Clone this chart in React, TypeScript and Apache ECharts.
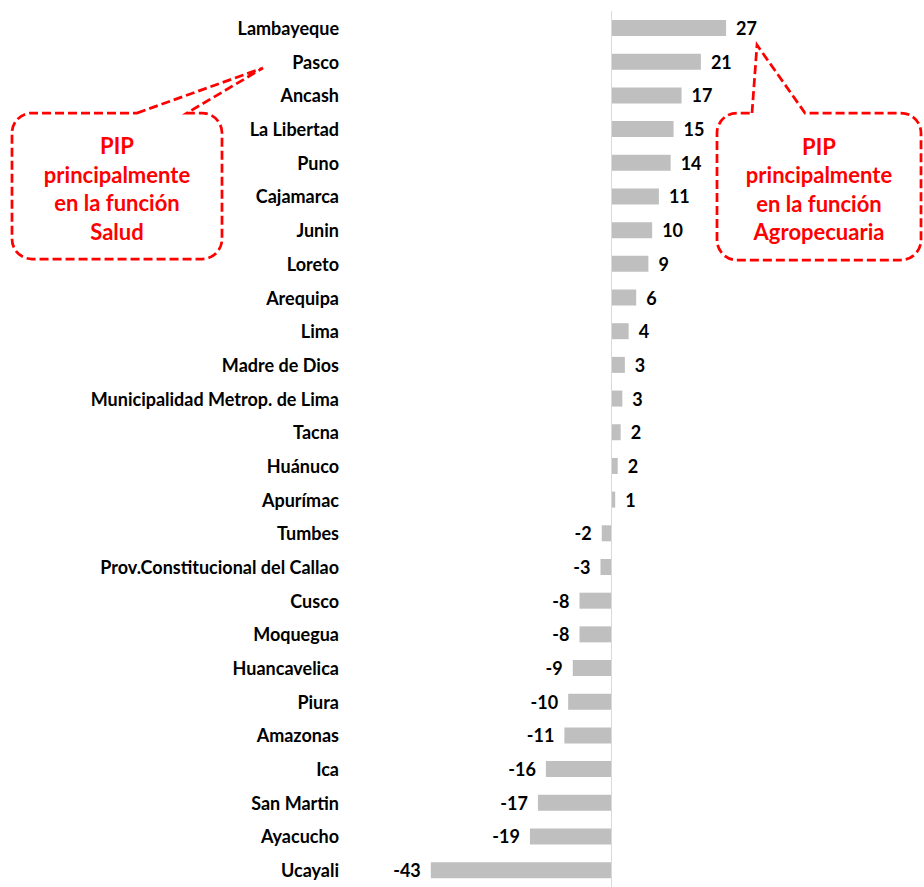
import React, { useEffect, useRef } from "react";
import * as echarts from "echarts";

const categories = [
  "Lambayeque", "Pasco", "Ancash", "La Libertad", "Puno", "Cajamarca", "Junin", "Loreto",
  "Arequipa", "Lima", "Madre de Dios", "Municipalidad Metrop. de Lima", "Tacna", "Huánuco",
  "Apurímac", "Tumbes", "Prov.Constitucional del Callao", "Cusco", "Moquegua", "Huancavelica",
  "Piura", "Amazonas", "Ica", "San Martin", "Ayacucho", "Ucayali",
];
const values = [
  27.4, 21.4, 16.8, 14.9, 14.2, 11.4, 9.8, 8.9, 6.0, 4.2, 3.3, 2.7, 2.3, 1.6, 1.0,
  -2.2, -2.5, -7.5, -7.5, -9.1, -10.2, -11.1, -15.5, -17.4, -19.3, -42.9,
];
const noteSalud = ["PIP", "principalmente", "en la función", "Salud"];
const noteAgro = ["PIP", "principalmente", "en la función", "Agropecuaria"];

const LEFT_CALLOUT =
  "M 137 113 L 263 68 L 187 113 L 202 113 A 20 20 0 0 1 222 133 L 222 239 A 20 20 0 0 1 202 259 L 32 259 A 20 20 0 0 1 12 239 L 12 133 A 20 20 0 0 1 32 113 Z";
const RIGHT_CALLOUT =
  "M 752 113 L 757 45 L 805 113 L 901 113 A 20 20 0 0 1 921 133 L 921 240 A 20 20 0 0 1 901 260 L 737 260 A 20 20 0 0 1 717 240 L 717 133 A 20 20 0 0 1 737 113 Z";

echarts.graphic.registerShape("calloutLeft", echarts.graphic.extendPath(LEFT_CALLOUT, {}));
echarts.graphic.registerShape("calloutRight", echarts.graphic.extendPath(RIGHT_CALLOUT, {}));

const FONT = "Lato";
const RED = "#FF0000";

function roundAway(v: number) {
  return Math.sign(v) * Math.round(Math.abs(v));
}

export default function App() {
  const ref = useRef<HTMLDivElement>(null);
  useEffect(() => {
    if (!ref.current) return;
    const chart = echarts.init(ref.current, undefined, { renderer: "svg" });
    const calloutStyle = {
      fill: "none",
      stroke: RED,
      lineWidth: 2.75,
      lineDash: [9, 4],
    };
    const noteTexts = (lines: string[], cx: number, y0: number) =>
      lines.map((t, i) => ({
        type: "text",
        style: {
          text: t,
          x: cx,
          y: y0 + i * 28.6,
          fill: RED,
          font: `bold 22px ${FONT}`,
          textAlign: "center",
          textVerticalAlign: "middle",
        },
      }));
    chart.setOption({
      animation: false,
      backgroundColor: "#ffffff",
      grid: { left: 359, right: 61, top: 11.2, height: 876.7, containLabel: false },
      xAxis: {
        type: "value",
        min: -60,
        max: 60,
        show: false,
        splitLine: { show: false },
      },
      yAxis: {
        type: "category",
        data: categories,
        inverse: true,
        axisLine: { show: false },
        axisTick: { show: false },
        axisLabel: {
          color: "#000",
          fontFamily: FONT,
          fontWeight: "bold",
          fontSize: 18,
          margin: 20,
        },
      },
      series: [
        {
          type: "bar",
          barWidth: 16,
          itemStyle: { color: "#BFBFBF" },
          data: values.map((v) => ({
            value: v,
            label: { position: v < 0 ? "left" : "right" },
          })),
          label: {
            show: true,
            distance: 10,
            color: "#000",
            fontFamily: FONT,
            fontWeight: "bold",
            fontSize: 18,
            formatter: (p: any) => String(roundAway(p.value)),
          },
          markLine: {
            silent: true,
            symbol: "none",
            label: { show: false },
            lineStyle: { color: "#D9D9D9", type: "solid", width: 1 },
            data: [{ xAxis: 0 }],
          },
        },
      ],
      graphic: [
        { type: "calloutLeft", style: calloutStyle, z: 10 },
        { type: "calloutRight", style: calloutStyle, z: 10 },
        ...noteTexts(noteSalud, 117, 145.5),
        ...noteTexts(noteAgro, 819, 146),
      ],
    });
    return () => chart.dispose();
  }, []);
  return (
    <div
      ref={ref}
      style={{ position: "fixed", left: 0, top: 0, width: 924, height: 887 }}
    />
  );
}
